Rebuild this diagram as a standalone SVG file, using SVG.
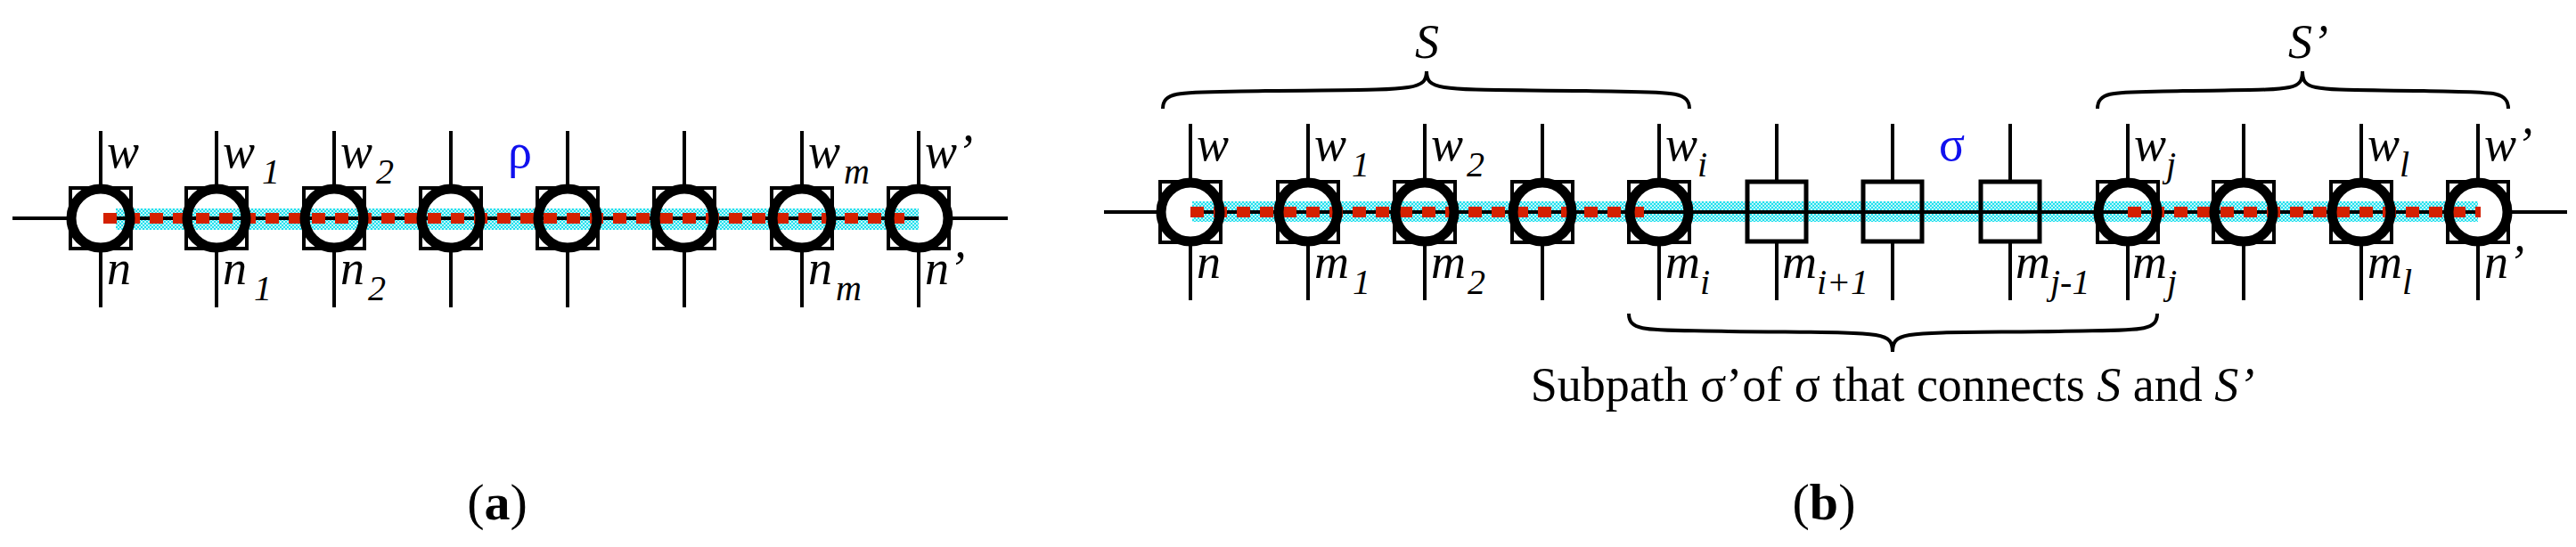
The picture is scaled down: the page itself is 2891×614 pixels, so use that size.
<svg xmlns="http://www.w3.org/2000/svg" width="2891" height="614" viewBox="0 0 2891 614">
<defs>
<pattern id="chk" width="4" height="4" patternUnits="userSpaceOnUse"><rect width="4" height="4" fill="#bff6fa"/><rect width="2" height="2" fill="#22e0ee"/><rect x="2" y="2" width="2" height="2" fill="#22e0ee"/></pattern>
<g id="nd"><rect x="-34" y="-34" width="68" height="68" fill="white" stroke="#000" stroke-width="4"/><circle r="33" fill="white"/></g>
</defs>
<style>
.t{font-family:"Liberation Serif",serif;font-style:italic;font-size:54px;fill:#000}
.s{font-size:40px}
.v{stroke:#000;stroke-width:4}
.ring{fill:none;stroke:#000;stroke-width:11}
.band{fill:url(#chk)}
.red{stroke:#d42000;stroke-width:12;stroke-dasharray:15 11}
.br{fill:none;stroke:#000;stroke-width:4}
</style>
<g id="connectors">
<line class="v" x1="14" y1="245" x2="1131" y2="245"/>
<line class="v" x1="1239" y1="238" x2="2881" y2="238"/>
<g class="v">
<line x1="113" y1="147" x2="113" y2="345"/><line x1="243" y1="147" x2="243" y2="345"/><line x1="375" y1="147" x2="375" y2="345"/><line x1="506" y1="147" x2="506" y2="345"/><line x1="637" y1="147" x2="637" y2="345"/><line x1="768" y1="147" x2="768" y2="345"/><line x1="900" y1="147" x2="900" y2="345"/><line x1="1031" y1="147" x2="1031" y2="345"/>
<line x1="1336" y1="139" x2="1336" y2="337"/><line x1="1468" y1="139" x2="1468" y2="337"/><line x1="1599" y1="139" x2="1599" y2="337"/><line x1="1731" y1="139" x2="1731" y2="337"/><line x1="1862" y1="139" x2="1862" y2="337"/><line x1="1994" y1="139" x2="1994" y2="337"/><line x1="2124" y1="139" x2="2124" y2="337"/><line x1="2256" y1="139" x2="2256" y2="337"/><line x1="2388" y1="139" x2="2388" y2="337"/><line x1="2518" y1="139" x2="2518" y2="337"/><line x1="2650" y1="139" x2="2650" y2="337"/><line x1="2781" y1="139" x2="2781" y2="337"/>
</g>
</g>
<g id="nodes-a">
<use href="#nd" x="113" y="245"/><use href="#nd" x="243" y="245"/><use href="#nd" x="375" y="245"/><use href="#nd" x="506" y="245"/><use href="#nd" x="637" y="245"/><use href="#nd" x="768" y="245"/><use href="#nd" x="900" y="245"/><use href="#nd" x="1031" y="245"/>
</g>
<g id="nodes-b">
<use href="#nd" x="1336" y="238"/><use href="#nd" x="1468" y="238"/><use href="#nd" x="1599" y="238"/><use href="#nd" x="1731" y="238"/><use href="#nd" x="1862" y="238"/>
<rect x="1961" y="204" width="66" height="67" fill="white" stroke="#000" stroke-width="4"/>
<rect x="2091" y="204" width="66" height="67" fill="white" stroke="#000" stroke-width="4"/>
<rect x="2223" y="204" width="66" height="67" fill="white" stroke="#000" stroke-width="4"/>
<use href="#nd" x="2388" y="238"/><use href="#nd" x="2518" y="238"/><use href="#nd" x="2650" y="238"/><use href="#nd" x="2781" y="238"/>
</g>
<g id="path-highlight">
<rect class="band" x="130" y="234" width="901" height="24"/>
<line class="v" x1="130" y1="245" x2="1031" y2="245"/>
<line class="red" x1="116" y1="245" x2="1025" y2="245"/>
<rect class="band" x="1338" y="226" width="1443" height="23"/>
<line class="v" x1="1338" y1="238" x2="2781" y2="238"/>
<line class="red" x1="1336" y1="238" x2="1856" y2="238"/>
<line class="red" x1="2388" y1="238" x2="2784" y2="238"/>
</g>
<g id="rings">
<circle class="ring" cx="113" cy="245" r="33"/><circle class="ring" cx="243" cy="245" r="33"/><circle class="ring" cx="375" cy="245" r="33"/><circle class="ring" cx="506" cy="245" r="33"/><circle class="ring" cx="637" cy="245" r="33"/><circle class="ring" cx="768" cy="245" r="33"/><circle class="ring" cx="900" cy="245" r="33"/><circle class="ring" cx="1031" cy="245" r="33"/>
<circle class="ring" cx="1336" cy="238" r="33"/><circle class="ring" cx="1468" cy="238" r="33"/><circle class="ring" cx="1599" cy="238" r="33"/><circle class="ring" cx="1731" cy="238" r="33"/><circle class="ring" cx="1862" cy="238" r="33"/>
<circle class="ring" cx="2388" cy="238" r="33"/><circle class="ring" cx="2518" cy="238" r="33"/><circle class="ring" cx="2650" cy="238" r="33"/><circle class="ring" cx="2781" cy="238" r="33"/>
<rect x="1961" y="204" width="66" height="67" fill="none" stroke="#000" stroke-width="5"/>
<rect x="2091" y="204" width="66" height="67" fill="none" stroke="#000" stroke-width="5"/>
<rect x="2223" y="204" width="66" height="67" fill="none" stroke="#000" stroke-width="5"/>
</g>
<g id="braces" class="br">
<path d="M1305,122 C1305,100 1330,104 1420,102 C1580,100 1601,104 1601,80 C1601,104 1620,100 1780,102 C1870,104 1896,100 1896,122"/>
<path d="M2354,122 C2354,100 2378,104 2450,102 C2570,100 2584,104 2584,80 C2584,104 2598,100 2720,102 C2792,104 2815,100 2815,122"/>
<path d="M1828,352 C1828,374 1852,370 1940,372 C2110,374 2124,370 2124,395 C2124,370 2138,374 2310,372 C2398,370 2421,374 2421,352"/>
</g>
<g id="labels" class="t">
<text x="120" y="188">w</text><text x="120" y="319">n</text>
<text x="250" y="188">w<tspan class="s" dx="8" dy="18">1</tspan></text><text x="250" y="319">n<tspan class="s" dx="8" dy="18">1</tspan></text>
<text x="382" y="188">w<tspan class="s" dx="4" dy="18">2</tspan></text><text x="382" y="319">n<tspan class="s" dx="4" dy="18">2</tspan></text>
<text x="570" y="188" style="fill:#1010ee;font-style:normal">ρ</text>
<text x="907" y="188">w<tspan class="s" dx="4" dy="18">m</tspan></text><text x="907" y="319">n<tspan class="s" dx="4" dy="18">m</tspan></text>
<text x="1038" y="188">w’</text><text x="1038" y="319">n’</text>
<text x="1588" y="65">S</text><text x="2568" y="65">S’</text>
<text x="1343" y="180">w</text><text x="1343" y="312">n</text>
<text x="1475" y="180">w<tspan class="s" dx="6" dy="18">1</tspan></text><text x="1475" y="312">m<tspan class="s" dx="4" dy="18">1</tspan></text>
<text x="1606" y="180">w<tspan class="s" dx="4" dy="18">2</tspan></text><text x="1606" y="312">m<tspan class="s" dx="2" dy="18">2</tspan></text>
<text x="1869" y="180">w<tspan class="s" dy="18">i</tspan></text><text x="1869" y="312">m<tspan class="s" dy="18">i</tspan></text>
<text x="2000" y="312">m<tspan class="s" dy="18">i+1</tspan></text>
<text x="2262" y="312">m<tspan class="s" dy="18">j-1</tspan></text>
<text x="2176" y="180" style="fill:#1010ee;font-style:normal">σ</text>
<text x="2395" y="180">w<tspan class="s" dy="18">j</tspan></text><text x="2393" y="312">m<tspan class="s" dy="18">j</tspan></text>
<text x="2657" y="180">w<tspan class="s" dy="18">l</tspan></text><text x="2657" y="312">m<tspan class="s" dy="18">l</tspan></text>
<text x="2788" y="180">w’</text><text x="2788" y="312">n’</text>
<text x="2124" y="450" text-anchor="middle" style="font-style:normal;font-size:54px">Subpath σ’of σ that connects <tspan style="font-style:italic">S</tspan> and <tspan style="font-style:italic">S’</tspan></text>
<text x="558" y="583" text-anchor="middle" style="font-style:normal;font-size:58px">(<tspan font-weight="bold">a</tspan>)</text>
<text x="2047" y="583" text-anchor="middle" style="font-style:normal;font-size:58px">(<tspan font-weight="bold">b</tspan>)</text>
</g>
</svg>
